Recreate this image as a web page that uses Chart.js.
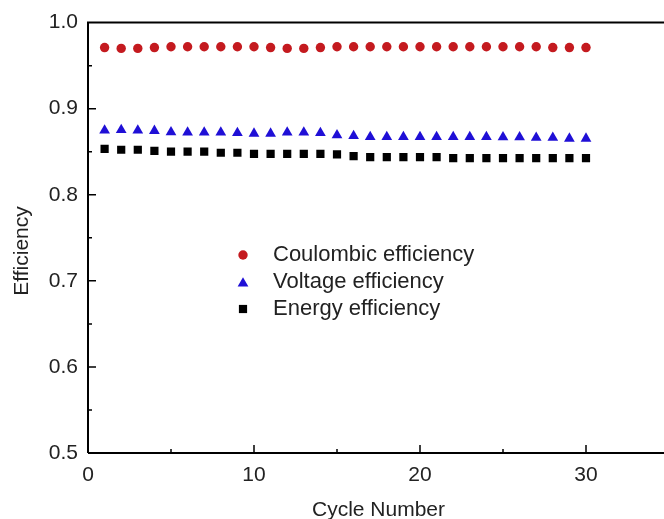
<!DOCTYPE html>
<html>
<head>
<meta charset="utf-8">
<script src="https://cdn.jsdelivr.net/npm/chart.js@4"></script>
<style>
html,body{margin:0;padding:0;background:#fff;overflow:hidden;width:664px;height:519px;}
#wrap{position:absolute;left:0;top:0;width:680px;height:519px;}
</style>
</head>
<body>
<div id="wrap"><canvas id="c" width="680" height="519"></canvas></div>
<script>
const cycles = [1,2,3,4,5,6,7,8,9,10,11,12,13,14,15,16,17,18,19,20,21,22,23,24,25,26,27,28,29,30];
const coulombic = [0.971,0.970,0.970,0.971,0.972,0.972,0.972,0.972,0.972,0.972,0.971,0.970,0.970,0.971,0.972,0.972,0.972,0.972,0.972,0.972,0.972,0.972,0.972,0.972,0.972,0.972,0.972,0.971,0.971,0.971];
const voltage = [0.8748,0.8753,0.8748,0.8743,0.8728,0.8723,0.8723,0.8723,0.8718,0.8711,0.8711,0.8723,0.8723,0.8718,0.8693,0.8683,0.8673,0.8673,0.8673,0.8673,0.8673,0.8673,0.8673,0.8673,0.8668,0.8668,0.8663,0.8663,0.8653,0.8653];
const energy = [0.8534,0.8523,0.8523,0.851,0.8502,0.8502,0.8502,0.8488,0.8488,0.8476,0.8476,0.8476,0.8476,0.8476,0.8468,0.8448,0.8437,0.8437,0.8437,0.8437,0.8437,0.8426,0.8426,0.8426,0.8426,0.8426,0.8426,0.8426,0.8426,0.8426];
const seriesNames = ['Coulombic efficiency','Voltage efficiency','Energy efficiency'];
const xTitle = 'Cycle Number';
const yTitle = 'Efficiency';
const xTicks = [0,10,20,30];
const xMinorTicks = [5,15,25];
const yTicks = [0.5,0.6,0.7,0.8,0.9,1.0];
const yMinorTicks = [0.55,0.65,0.75,0.85,0.95];

const FONT = 'Liberation Sans, Arial, sans-serif';
const textColor = '#222';

const mk = (arr) => cycles.map((c,i)=>({x:c,y:arr[i]}));

const frameTicks = {
  id:'frameTicks',
  afterDraw(chart){
    const ctx = chart.ctx, a = chart.chartArea;
    const xs = chart.scales.x, ys = chart.scales.y;
    ctx.save();
    ctx.strokeStyle = '#000';
    ctx.lineWidth = 2;
    ctx.beginPath();
    ctx.moveTo(a.left, a.bottom); ctx.lineTo(a.left, a.top); ctx.lineTo(a.right+20, a.top);
    ctx.moveTo(a.left, a.bottom); ctx.lineTo(a.right+20, a.bottom);
    ctx.stroke();
    ctx.lineWidth = 1.5;
    ctx.beginPath();
    xTicks.forEach(v=>{const p=xs.getPixelForValue(v); if(v!==0){ctx.moveTo(p,a.bottom); ctx.lineTo(p,a.bottom-8);}});
    xMinorTicks.forEach(v=>{const p=xs.getPixelForValue(v); ctx.moveTo(p,a.bottom); ctx.lineTo(p,a.bottom-4);});
    yTicks.forEach(v=>{const p=ys.getPixelForValue(v); if(v!==0.5 && v!==1.0){ctx.moveTo(a.left,p); ctx.lineTo(a.left+8,p);}});
    yMinorTicks.forEach(v=>{const p=ys.getPixelForValue(v); ctx.moveTo(a.left,p); ctx.lineTo(a.left+4,p);});
    ctx.stroke();
    // y title
    ctx.save();
    ctx.translate(22, 251);
    ctx.rotate(-Math.PI/2);
    ctx.fillStyle = textColor;
    ctx.font = '21px ' + FONT;
    ctx.textAlign = 'center';
    ctx.textBaseline = 'middle';
    ctx.fillText(yTitle, 0, 0);
    ctx.restore();
    // legend
    const lx = 243, ly0 = 255, dy = 27;
    chart.data.datasets.forEach((ds,i)=>{
      const y = ly0 + i*dy;
      ctx.fillStyle = ds.backgroundColor;
      ctx.beginPath();
      const r = ds.pointRadius;
      if(ds.pointStyle==='circle'){ctx.arc(lx,y,r,0,Math.PI*2);}
      else if(ds.pointStyle==='triangle'){const yc=y+1.5; ctx.moveTo(lx,yc-r);ctx.lineTo(lx+r*0.866,yc+r*0.5);ctx.lineTo(lx-r*0.866,yc+r*0.5);ctx.closePath();}
      else {const s=r*Math.SQRT1_2; ctx.rect(lx-s,y-s,2*s,2*s);}
      ctx.fill();
      ctx.fillStyle = textColor;
      ctx.font = '22px ' + FONT;
      ctx.textBaseline = 'middle';
      ctx.textAlign = 'left';
      ctx.fillText(ds.label, 273, y);
    });
    ctx.restore();
  }
};

new Chart(document.getElementById('c'), {
  type:'scatter',
  data:{
    datasets:[
      {label:seriesNames[0], data:mk(coulombic), pointStyle:'circle', pointRadius:4.7, backgroundColor:'#c41a1f', borderColor:'#c41a1f', borderWidth:0},
      {label:seriesNames[1], data:mk(voltage), pointStyle:'triangle', pointRadius:6.2, backgroundColor:'#1f0fd6', borderColor:'#1f0fd6', borderWidth:0},
      {label:seriesNames[2], data:mk(energy), pointStyle:'rect', pointRadius:5.8, backgroundColor:'#000', borderColor:'#000', borderWidth:0}
    ]
  },
  options:{
    responsive:false,
    animation:false,
    layout:{padding:{left:0,top:21,right:11,bottom:0}},
    plugins:{legend:{display:false}, tooltip:{enabled:false}},
    scales:{
      x:{
        type:'linear', min:0, max:35,
        afterBuildTicks(s){ s.ticks = xTicks.map(v=>({value:v})); },
        afterFit(s){ s.height = 66; },
        grid:{display:false, drawTicks:false},
        border:{display:false},
        ticks:{font:{family:FONT,size:21}, color:textColor, padding:10, maxRotation:0, callback:v=>String(v)},
        title:{display:true, text:xTitle, font:{family:FONT,size:21}, color:textColor, padding:{top:6,bottom:-4}}
      },
      y:{
        type:'linear', min:0.5, max:1.0,
        afterBuildTicks(s){ s.ticks = yTicks.map(v=>({value:v})); },
        afterFit(s){ s.width = 88; },
        grid:{display:false, drawTicks:false},
        border:{display:false},
        ticks:{font:{family:FONT,size:21}, color:textColor, padding:10, callback:v=>Number(v).toFixed(1)},
        title:{display:false}
      }
    }
  },
  plugins:[frameTicks]
});
</script>
</body>
</html>
